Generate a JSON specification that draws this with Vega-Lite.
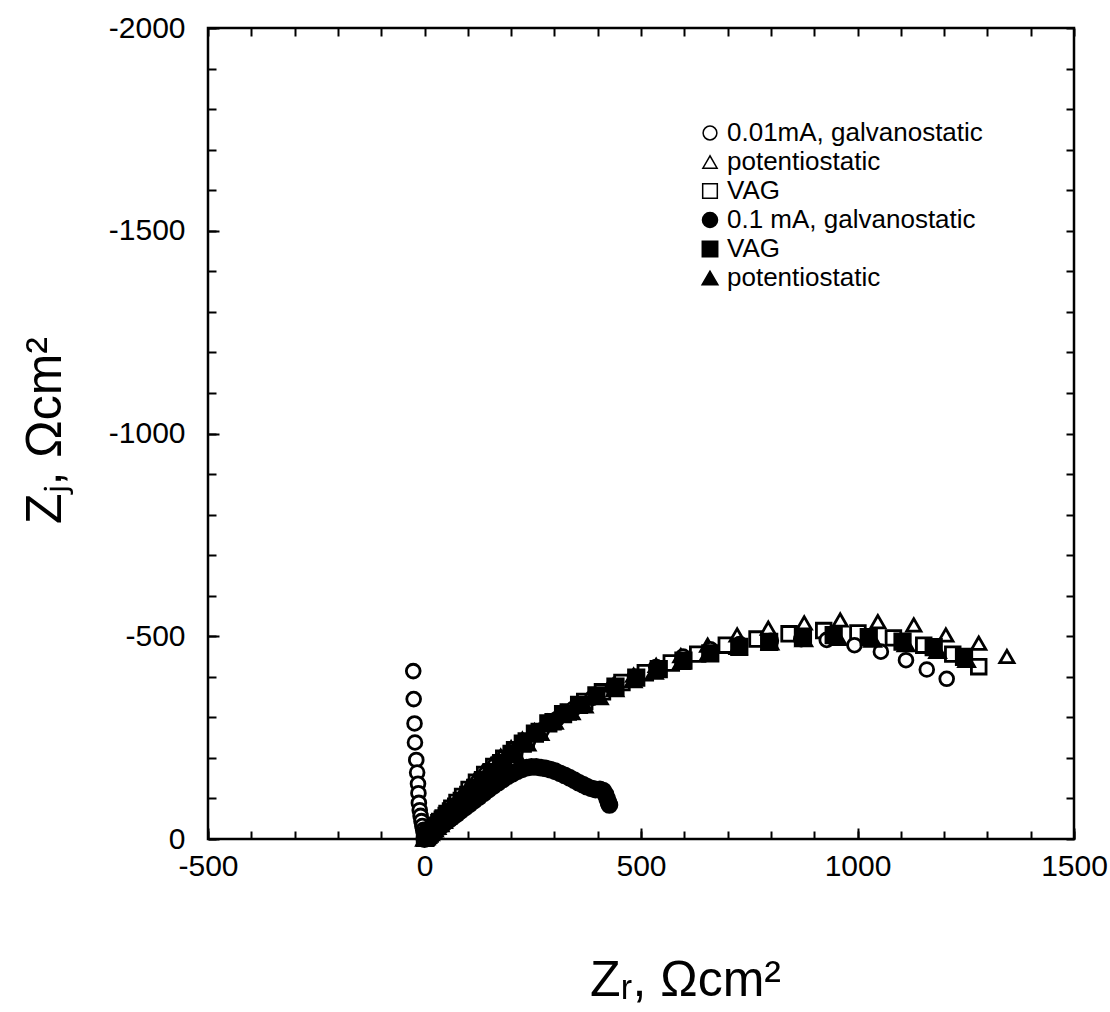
{
"$schema": "https://vega.github.io/schema/vega-lite/v6.json",
"width": 866, "height": 811,
"autosize": {"type": "none"},
"padding": {"left": 208, "top": 28, "right": 36, "bottom": 173},
"background": "white",
"config": {
  "view": {"stroke": "black", "strokeWidth": 2.5},
  "font": "Liberation Sans",
  "axis": {"grid": false, "domain": false, "tickColor": "black", "tickWidth": 2, "labelColor": "black", "titleColor": "black", "labelFont": "Liberation Sans", "titleFont": "Liberation Sans", "labelFontSize": 30, "titleFontSize": 50, "titleFontWeight": "normal", "labelOverlap": false, "labelFlush": false},
  "legend": {"orient": "none", "legendX": 489, "legendY": 92, "title": null, "padding": 0, "labelFontSize": 26, "labelFont": "Liberation Sans", "labelColor": "black", "labelLimit": 500, "labelOffset": 4, "rowPadding": 3}
},
"data": {"values": [
{"s":"c","zr":2,"zi":-2},{"s":"c","zr":4,"zi":-5},{"s":"c","zr":6,"zi":-7},{"s":"c","zr":9,"zi":-11},{"s":"c","zr":13,"zi":-16},{"s":"c","zr":17,"zi":-21},{"s":"c","zr":22,"zi":-27},{"s":"c","zr":28,"zi":-34},{"s":"c","zr":35,"zi":-43},{"s":"c","zr":43,"zi":-52},{"s":"c","zr":52,"zi":-63},{"s":"c","zr":63,"zi":-76},{"s":"c","zr":75,"zi":-90},{"s":"c","zr":88,"zi":-105},{"s":"c","zr":103,"zi":-122},{"s":"c","zr":120,"zi":-140},{"s":"c","zr":139,"zi":-159},{"s":"c","zr":160,"zi":-179},{"s":"c","zr":183,"zi":-199},{"s":"c","zr":208,"zi":-220},{"s":"c","zr":235,"zi":-242},{"s":"c","zr":265,"zi":-265},{"s":"c","zr":297,"zi":-289},{"s":"c","zr":332,"zi":-313},{"s":"c","zr":370,"zi":-339},{"s":"c","zr":411,"zi":-363},{"s":"c","zr":456,"zi":-386},{"s":"c","zr":510,"zi":-410},{"s":"c","zr":570,"zi":-434},{"s":"c","zr":631,"zi":-456},{"s":"c","zr":697,"zi":-478},{"s":"c","zr":768,"zi":-493},{"s":"c","zr":842,"zi":-506},{"s":"c","zr":922,"zi":-514},{"s":"c","zr":1001,"zi":-508},{"s":"c","zr":1083,"zi":-496},{"s":"c","zr":1153,"zi":-478},{"s":"c","zr":1220,"zi":-456},{"s":"c","zr":1280,"zi":-425},
{"s":"b","zr":1,"zi":-1},{"s":"b","zr":3,"zi":-4},{"s":"b","zr":5,"zi":-7},{"s":"b","zr":8,"zi":-11},{"s":"b","zr":11,"zi":-15},{"s":"b","zr":15,"zi":-20},{"s":"b","zr":20,"zi":-27},{"s":"b","zr":26,"zi":-35},{"s":"b","zr":33,"zi":-44},{"s":"b","zr":41,"zi":-54},{"s":"b","zr":50,"zi":-66},{"s":"b","zr":60,"zi":-79},{"s":"b","zr":72,"zi":-94},{"s":"b","zr":85,"zi":-110},{"s":"b","zr":100,"zi":-128},{"s":"b","zr":116,"zi":-146},{"s":"b","zr":134,"zi":-165},{"s":"b","zr":154,"zi":-184},{"s":"b","zr":176,"zi":-204},{"s":"b","zr":200,"zi":-225},{"s":"b","zr":226,"zi":-246},{"s":"b","zr":254,"zi":-267},{"s":"b","zr":285,"zi":-289},{"s":"b","zr":318,"zi":-312},{"s":"b","zr":354,"zi":-334},{"s":"b","zr":393,"zi":-357},{"s":"b","zr":436,"zi":-380},{"s":"b","zr":483,"zi":-404},{"s":"b","zr":535,"zi":-428},{"s":"b","zr":592,"zi":-452},{"s":"b","zr":654,"zi":-478},{"s":"b","zr":722,"zi":-503},{"s":"b","zr":794,"zi":-520},{"s":"b","zr":877,"zi":-533},{"s":"b","zr":960,"zi":-540},{"s":"b","zr":1047,"zi":-536},{"s":"b","zr":1130,"zi":-528},{"s":"b","zr":1204,"zi":-503},{"s":"b","zr":1280,"zi":-483},{"s":"b","zr":1345,"zi":-450},
{"s":"a","zr":-26,"zi":-414},{"s":"a","zr":-25,"zi":-345},{"s":"a","zr":-23,"zi":-285},{"s":"a","zr":-22,"zi":-238},{"s":"a","zr":-19,"zi":-195},{"s":"a","zr":-17,"zi":-164},{"s":"a","zr":-15,"zi":-136},{"s":"a","zr":-14,"zi":-113},{"s":"a","zr":-13,"zi":-89},{"s":"a","zr":-11,"zi":-71},{"s":"a","zr":-9,"zi":-57},{"s":"a","zr":-7,"zi":-44},{"s":"a","zr":-5,"zi":-32},{"s":"a","zr":-3,"zi":-22},{"s":"a","zr":-1,"zi":-14},{"s":"a","zr":0,"zi":-7},{"s":"a","zr":1,"zi":-3},
{"s":"a","zr":4,"zi":-4},{"s":"a","zr":7,"zi":-8},{"s":"a","zr":11,"zi":-12},{"s":"a","zr":16,"zi":-18},{"s":"a","zr":22,"zi":-25},{"s":"a","zr":29,"zi":-33},{"s":"a","zr":37,"zi":-42},{"s":"a","zr":46,"zi":-52},{"s":"a","zr":57,"zi":-64},{"s":"a","zr":69,"zi":-77},{"s":"a","zr":83,"zi":-92},{"s":"a","zr":99,"zi":-108},{"s":"a","zr":117,"zi":-126},{"s":"a","zr":137,"zi":-146},{"s":"a","zr":159,"zi":-167},{"s":"a","zr":183,"zi":-190},{"s":"a","zr":210,"zi":-215},{"s":"a","zr":239,"zi":-241},{"s":"a","zr":271,"zi":-268},{"s":"a","zr":306,"zi":-296},{"s":"a","zr":345,"zi":-322},{"s":"a","zr":388,"zi":-348},{"s":"a","zr":435,"zi":-374},{"s":"a","zr":486,"zi":-400},{"s":"a","zr":535,"zi":-424},{"s":"a","zr":597,"zi":-450},{"s":"a","zr":660,"zi":-468},{"s":"a","zr":728,"zi":-481},{"s":"a","zr":800,"zi":-489},{"s":"a","zr":870,"zi":-493},{"s":"a","zr":929,"zi":-491},{"s":"a","zr":993,"zi":-478},{"s":"a","zr":1054,"zi":-462},{"s":"a","zr":1112,"zi":-441},{"s":"a","zr":1160,"zi":-418},{"s":"a","zr":1206,"zi":-395},
{"s":"e","zr":1,"zi":-3},{"s":"e","zr":3,"zi":-5},{"s":"e","zr":6,"zi":-8},{"s":"e","zr":9,"zi":-12},{"s":"e","zr":12,"zi":-15},{"s":"e","zr":16,"zi":-20},{"s":"e","zr":21,"zi":-25},{"s":"e","zr":27,"zi":-32},{"s":"e","zr":34,"zi":-39},{"s":"e","zr":42,"zi":-48},{"s":"e","zr":51,"zi":-57},{"s":"e","zr":61,"zi":-68},{"s":"e","zr":73,"zi":-80},{"s":"e","zr":86,"zi":-94},{"s":"e","zr":101,"zi":-109},{"s":"e","zr":117,"zi":-126},{"s":"e","zr":135,"zi":-145},{"s":"e","zr":155,"zi":-165},{"s":"e","zr":177,"zi":-187},{"s":"e","zr":201,"zi":-210},{"s":"e","zr":227,"zi":-235},{"s":"e","zr":255,"zi":-260},{"s":"e","zr":286,"zi":-285},{"s":"e","zr":320,"zi":-308},{"s":"e","zr":357,"zi":-331},{"s":"e","zr":397,"zi":-354},{"s":"e","zr":441,"zi":-376},{"s":"e","zr":489,"zi":-398},{"s":"e","zr":541,"zi":-419},{"s":"e","zr":598,"zi":-440},{"s":"e","zr":660,"zi":-458},{"s":"e","zr":727,"zi":-474},{"s":"e","zr":796,"zi":-486},{"s":"e","zr":874,"zi":-498},{"s":"e","zr":945,"zi":-503},{"s":"e","zr":1026,"zi":-498},{"s":"e","zr":1104,"zi":-487},{"s":"e","zr":1176,"zi":-473},{"s":"e","zr":1246,"zi":-449},
{"s":"f","zr":0,"zi":-1},{"s":"f","zr":2,"zi":-3},{"s":"f","zr":4,"zi":-5},{"s":"f","zr":7,"zi":-8},{"s":"f","zr":10,"zi":-11},{"s":"f","zr":14,"zi":-15},{"s":"f","zr":18,"zi":-19},{"s":"f","zr":23,"zi":-24},{"s":"f","zr":29,"zi":-30},{"s":"f","zr":36,"zi":-37},{"s":"f","zr":44,"zi":-45},{"s":"f","zr":53,"zi":-55},{"s":"f","zr":64,"zi":-66},{"s":"f","zr":76,"zi":-78},{"s":"f","zr":90,"zi":-92},{"s":"f","zr":105,"zi":-108},{"s":"f","zr":122,"zi":-125},{"s":"f","zr":141,"zi":-144},{"s":"f","zr":162,"zi":-165},{"s":"f","zr":185,"zi":-187},{"s":"f","zr":210,"zi":-211},{"s":"f","zr":237,"zi":-236},{"s":"f","zr":267,"zi":-262},{"s":"f","zr":300,"zi":-290},{"s":"f","zr":339,"zi":-313},{"s":"f","zr":369,"zi":-330},{"s":"f","zr":404,"zi":-350},{"s":"f","zr":440,"zi":-370},{"s":"f","zr":482,"zi":-392},{"s":"f","zr":531,"zi":-413},{"s":"f","zr":593,"zi":-437},{"s":"f","zr":655,"zi":-457},{"s":"f","zr":724,"zi":-474},{"s":"f","zr":798,"zi":-485},{"s":"f","zr":876,"zi":-493},{"s":"f","zr":955,"zi":-496},{"s":"f","zr":1035,"zi":-492},{"s":"f","zr":1112,"zi":-481},{"s":"f","zr":1185,"zi":-464},{"s":"f","zr":1252,"zi":-442},
{"s":"d","zr":0,"zi":0},{"s":"d","zr":3,"zi":-3},{"s":"d","zr":6,"zi":-5},{"s":"d","zr":10,"zi":-9},{"s":"d","zr":14,"zi":-12},{"s":"d","zr":19,"zi":-16},{"s":"d","zr":24,"zi":-20},{"s":"d","zr":30,"zi":-25},{"s":"d","zr":36,"zi":-30},{"s":"d","zr":43,"zi":-36},{"s":"d","zr":50,"zi":-42},{"s":"d","zr":58,"zi":-48},{"s":"d","zr":66,"zi":-55},{"s":"d","zr":75,"zi":-62},{"s":"d","zr":84,"zi":-70},{"s":"d","zr":94,"zi":-78},{"s":"d","zr":104,"zi":-86},{"s":"d","zr":115,"zi":-95},{"s":"d","zr":126,"zi":-104},{"s":"d","zr":137,"zi":-113},{"s":"d","zr":148,"zi":-122},{"s":"d","zr":159,"zi":-131},{"s":"d","zr":170,"zi":-139},{"s":"d","zr":181,"zi":-147},{"s":"d","zr":192,"zi":-155},{"s":"d","zr":203,"zi":-161},{"s":"d","zr":214,"zi":-167},{"s":"d","zr":225,"zi":-172},{"s":"d","zr":236,"zi":-176},{"s":"d","zr":247,"zi":-178},{"s":"d","zr":258,"zi":-178},{"s":"d","zr":269,"zi":-176},{"s":"d","zr":280,"zi":-174},{"s":"d","zr":291,"zi":-171},{"s":"d","zr":302,"zi":-167},{"s":"d","zr":313,"zi":-162},{"s":"d","zr":324,"zi":-157},{"s":"d","zr":335,"zi":-151},{"s":"d","zr":346,"zi":-145},{"s":"d","zr":356,"zi":-139},{"s":"d","zr":366,"zi":-134},{"s":"d","zr":375,"zi":-129},{"s":"d","zr":385,"zi":-125},{"s":"d","zr":395,"zi":-122},{"s":"d","zr":405,"zi":-122},{"s":"d","zr":413,"zi":-119},{"s":"d","zr":418,"zi":-110},{"s":"d","zr":422,"zi":-99},{"s":"d","zr":425,"zi":-90},{"s":"d","zr":427,"zi":-84}
]},
"layer": [
 {
  "mark": {"type": "point", "filled": true, "stroke": "black", "strokeWidth": 2.8, "opacity": 1},
  "encoding": {
   "x": {"field": "zr", "type": "quantitative",
     "scale": {"domain": [-500, 1500], "nice": false, "zero": false},
     "axis": {"orient": "bottom", "values": [-500,-400,-300,-200,-100,0,100,200,300,400,500,600,700,800,900,1000,1100,1200,1300,1400,1500], "tickSize": -8, "labelPadding": 20,
       "labelExpr": "datum.value % 500 === 0 ? '' + datum.value : ''",
       "title": "Zᵣ, Ωcm²", "titleX": 477, "titleY": 156, "titleBaseline": "alphabetic", "titleAlign": "center"}},
   "y": {"field": "zi", "type": "quantitative",
     "scale": {"domain": [-2000, 0], "reverse": true, "nice": false, "zero": false},
     "axis": {"orient": "left", "values": [0,-100,-200,-300,-400,-500,-600,-700,-800,-900,-1000,-1100,-1200,-1300,-1400,-1500,-1600,-1700,-1800,-1900,-2000], "tickSize": -8, "labelPadding": 31,
       "labelExpr": "datum.value % 500 === 0 ? '' + datum.value : ''",
       "title": "Zⱼ, Ωcm²", "titleAngle": 270, "titleX": -148, "titleY": 402, "titleBaseline": "alphabetic", "titleAlign": "center"}},
   "shape": {"field": "s", "type": "nominal",
     "scale": {"domain": ["a","b","c","d","e","f"], "range": ["circle","triangle-up","square","circle","square","triangle-up"]},
     "legend": {"labelExpr": "datum.value === 'a' ? '\u00a00.01mA, galvanostatic' : datum.value === 'b' ? 'potentiostatic' : datum.value === 'c' ? 'VAG' : datum.value === 'd' ? '0.1 mA, galvanostatic' : datum.value === 'e' ? 'VAG' : 'potentiostatic'",
       "encode": {"symbols": {"update": {"stroke": {"value": "black"}, "strokeWidth": {"value": 2.4}, "size": {"value": 130}}}}}},
   "fill": {"field": "s", "type": "nominal",
     "scale": {"domain": ["a","b","c","d","e","f"], "range": ["white","white","white","black","black","black"]},
     "legend": {"labelExpr": "datum.value === 'a' ? '\u00a00.01mA, galvanostatic' : datum.value === 'b' ? 'potentiostatic' : datum.value === 'c' ? 'VAG' : datum.value === 'd' ? '0.1 mA, galvanostatic' : datum.value === 'e' ? 'VAG' : 'potentiostatic'",
       "encode": {"symbols": {"update": {"stroke": {"value": "black"}, "strokeWidth": {"value": 2.4}, "size": {"value": 130}}}}}},
   "size": {"field": "s", "type": "nominal",
     "scale": {"domain": ["a","b","c","d","e","f"], "range": [190, 250, 170, 210, 170, 250]},
     "legend": {"labelExpr": "datum.value === 'a' ? '\u00a00.01mA, galvanostatic' : datum.value === 'b' ? 'potentiostatic' : datum.value === 'c' ? 'VAG' : datum.value === 'd' ? '0.1 mA, galvanostatic' : datum.value === 'e' ? 'VAG' : 'potentiostatic'",
       "encode": {"symbols": {"update": {"stroke": {"value": "black"}, "strokeWidth": {"value": 2.4}, "size": {"value": 130}}}}}}
  }
 },
 {
  "mark": {"type": "point", "opacity": 0},
  "encoding": {
   "x": {"field": "zr", "type": "quantitative",
     "axis": {"orient": "top", "values": [-500,-400,-300,-200,-100,0,100,200,300,400,500,600,700,800,900,1000,1100,1200,1300,1400,1500], "tickSize": -8, "labels": false, "title": null}},
   "y": {"field": "zi", "type": "quantitative",
     "axis": {"orient": "right", "values": [0,-100,-200,-300,-400,-500,-600,-700,-800,-900,-1000,-1100,-1200,-1300,-1400,-1500,-1600,-1700,-1800,-1900,-2000], "tickSize": -8, "labels": false, "title": null}}
  }
 },
 {
  "mark": {"type": "point", "opacity": 0},
  "encoding": {
   "x": {"field": "zr", "type": "quantitative",
     "axis": {"orient": "bottom", "values": [-500,0,500,1000,1500], "tickSize": -11, "labels": false, "title": null}},
   "y": {"field": "zi", "type": "quantitative",
     "axis": {"orient": "left", "values": [0,-500,-1000,-1500,-2000], "tickSize": -11, "labels": false, "title": null}}
  }
 }
],
"resolve": {"axis": {"x": "independent", "y": "independent"}}
}
